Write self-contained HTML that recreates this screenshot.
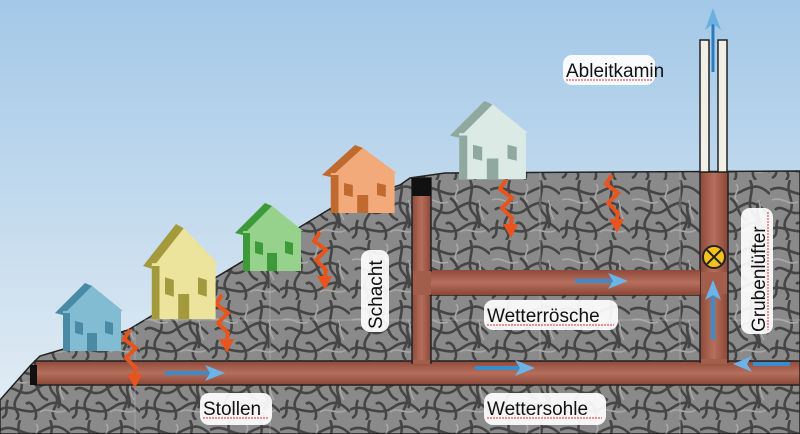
<!DOCTYPE html>
<html><head><meta charset="utf-8"><style>
html,body{margin:0;padding:0;background:#fff}
svg{display:block}
text{font-family:"Liberation Sans","DejaVu Sans",sans-serif}
</style></head><body>
<svg width="800" height="434" viewBox="0 0 800 434" xmlns="http://www.w3.org/2000/svg">
<defs>
<linearGradient id="sky" x1="0" y1="0" x2="0" y2="1">
<stop offset="0" stop-color="#a3c8e8"/><stop offset="1" stop-color="#e6eef4"/>
</linearGradient>
<linearGradient id="tun" x1="0" y1="0" x2="0" y2="1">
<stop offset="0" stop-color="#8e4a3a"/><stop offset="0.5" stop-color="#b56f5c"/><stop offset="1" stop-color="#8a4636"/>
</linearGradient>
<linearGradient id="tunv" x1="0" y1="0" x2="1" y2="0">
<stop offset="0" stop-color="#8e4a3a"/><stop offset="0.5" stop-color="#b56f5c"/><stop offset="1" stop-color="#8a4636"/>
</linearGradient>
<clipPath id="gclip"><polygon points="0,400 30,366 40,356 128,330 300,227 333,207 400,185 410,178 445,173 800,171 800,434 0,434"/></clipPath>
<pattern id="rock" width="70" height="60" patternUnits="userSpaceOnUse">
<rect width="70" height="60" fill="#8a8a8a"/>
<g fill="none" stroke="#454545" stroke-width="2.6">
<path d="M0 10 C15 2 25 20 40 12 S60 5 70 14"/>
<path d="M5 30 C12 22 22 40 35 30 S55 20 68 34"/>
<path d="M0 50 C10 42 28 58 42 48 S62 44 70 52"/>
<path d="M20 0 C14 14 28 22 18 36 S24 52 16 60"/>
<path d="M50 0 C56 12 44 24 54 34 S46 50 56 60"/>
<path d="M30 18 C40 24 36 36 48 40"/>
<path d="M8 40 C4 46 10 54 2 58"/>
<path d="M60 22 C52 30 64 40 58 48"/>
<path d="M26 44 C32 38 40 56 34 60"/>
</g>
<g fill="none" stroke="#a8a8a8" stroke-width="1.6">
<path d="M2 20 C12 16 18 26 28 22"/>
<path d="M40 52 C48 46 56 56 66 50"/>
<path d="M58 20 C62 26 58 30 64 40"/>
<path d="M36 4 C42 10 30 16 38 22"/>
</g>
</pattern>
<g id="house">
<polygon points="6,28 36,2 68,28" fill="var(--l)"/>
<polygon points="0,30 30,0 37,3 8,32" fill="var(--d)"/>
<rect x="8" y="28" width="58" height="40" fill="var(--l)"/>
<rect x="8" y="30" width="7" height="38" fill="var(--d)"/>
<polygon points="20,38 28,40 28,52 20,50" fill="var(--d)"/>
<polygon points="50,38 58,40 58,52 50,50" fill="var(--d)"/>
<rect x="32" y="50" width="10" height="18" fill="var(--d)"/>
</g>
<g id="bolt"><polyline points="0,0 -6,9 6,18 -4,28 6,38 4,48" fill="none" stroke="#e8541e" stroke-width="4"/><polygon points="-3,44 12,44 5,58" fill="#e8541e"/></g>
</defs>
<rect width="800" height="434" fill="url(#sky)"/>
<polygon points="0,400 30,366 40,356 128,330 300,227 333,207 400,185 410,178 445,173 800,171 800,434 0,434" fill="url(#rock)" stroke="#222" stroke-width="1.5"/>
<g stroke="#b5b5b5" stroke-width="1" opacity="0.6" clip-path="url(#gclip)">
<line x1="135" y1="322" x2="135" y2="434"/><line x1="270" y1="240" x2="270" y2="434"/><line x1="540" y1="172" x2="540" y2="434"/><line x1="680" y1="172" x2="680" y2="434"/>
<line x1="0" y1="320" x2="800" y2="320"/>
</g>
<rect x="35" y="361" width="765" height="24" fill="url(#tun)" stroke="#222" stroke-width="1.5"/>
<rect x="30" y="365" width="7" height="20" fill="#111"/>
<rect x="412" y="178" width="19" height="185" fill="url(#tunv)" stroke="#222" stroke-width="1.5"/>
<rect x="412" y="178" width="19" height="18" fill="#111"/>
<rect x="430" y="271" width="272" height="24" fill="url(#tun)" stroke="#222" stroke-width="1.5"/>
<rect x="700" y="172" width="28" height="190" fill="url(#tunv)" stroke="#222" stroke-width="1.5"/>
<rect x="413" y="271" width="18" height="24" fill="#a35d4b"/>
<rect x="413" y="360" width="17" height="4" fill="#a35d4b"/>
<rect x="432" y="270" width="268" height="25" fill="url(#tun)"/>
<rect x="701" y="272" width="26" height="22" fill="#a35d4b"/>
<rect x="701" y="359" width="26" height="5" fill="#a35d4b"/>
<rect x="700" y="40" width="9" height="132" fill="#f2efe6" stroke="#222" stroke-width="1.5"/>
<rect x="718" y="40" width="9" height="132" fill="#f2efe6" stroke="#222" stroke-width="1.5"/>
<line x1="713" y1="72" x2="713" y2="22" stroke="#2b7bbf" stroke-width="3"/>
<polygon points="705,30 713,8 721,30 713,24" fill="#6ab0e0"/>
<circle cx="714" cy="257" r="11" fill="#f4c21e" stroke="#222" stroke-width="2"/>
<path d="M707 250 L721 264 M721 250 L707 264" stroke="#222" stroke-width="2"/>
<g fill="#3b8ccc">
<rect x="165" y="371" width="45" height="4"/><polygon points="205,365 225,373 205,381 210,373" fill="#6cb4e8"/>
<rect x="475" y="366" width="45" height="4"/><polygon points="515,360 535,368 515,376 520,368" fill="#6cb4e8"/>
<rect x="575" y="279" width="40" height="4"/><polygon points="608,273 628,281 608,289 613,281" fill="#6cb4e8"/>
<rect x="753" y="362" width="37" height="4"/><polygon points="752,356 733,364 752,372 747,364" fill="#6cb4e8"/>
<rect x="711" y="295" width="4" height="45"/><polygon points="705,300 713,280 721,300 713,295" fill="#6cb4e8"/>
</g>
<use href="#bolt" x="130" y="330"/>
<use href="#bolt" x="222" y="295"/>
<use href="#bolt" x="320" y="232"/>
<use href="#bolt" x="506" y="180"/>
<use href="#bolt" x="612" y="175"/>
<use href="#house" x="55" y="283" style="--l:#82bcd2;--d:#4a8aa5"/>
<use href="#house" transform="translate(143,224) scale(1.1,1.4)" style="--l:#ece49c;--d:#a29a3c"/>
<use href="#house" x="235" y="203" style="--l:#96d28c;--d:#3d9a38"/>
<use href="#house" transform="translate(322,145) scale(1.1,1)" style="--l:#f2aa7a;--d:#c06a30"/>
<use href="#house" transform="translate(450,101) scale(1.15,1.15)" style="--l:#dceae6;--d:#8fa8a0"/>
<g fill="#fff" opacity="0.92">
<rect x="563" y="55" width="92" height="30" rx="9"/>
<rect x="484" y="300" width="134" height="30" rx="9"/>
<rect x="200" y="393" width="72" height="32" rx="9"/>
<rect x="484" y="393" width="122" height="32" rx="9"/>
<rect x="361" y="250" width="28" height="82" rx="9"/>
<rect x="741" y="208" width="32" height="126" rx="9"/>
</g>
<g font-size="19" fill="#111">
<text x="566" y="77">Ableitkamin</text>
<text x="487" y="322">Wetterrösche</text>
<text x="203" y="415">Stollen</text>
<text x="487" y="415">Wettersohle</text>
<text transform="translate(382,329) rotate(-90)">Schacht</text>
<text transform="translate(765,332) rotate(-90)">Grubenlüfter</text>
</g>
<g stroke="#e03030" stroke-width="1" fill="none" stroke-dasharray="2,1">
<line x1="566" y1="80" x2="652" y2="80"/><line x1="487" y1="325" x2="614" y2="325"/>
<line x1="203" y1="418" x2="268" y2="418"/><line x1="487" y1="418" x2="602" y2="418"/>
<line x1="768" y1="212" x2="768" y2="330"/>
</g>
</svg>
</body></html>
